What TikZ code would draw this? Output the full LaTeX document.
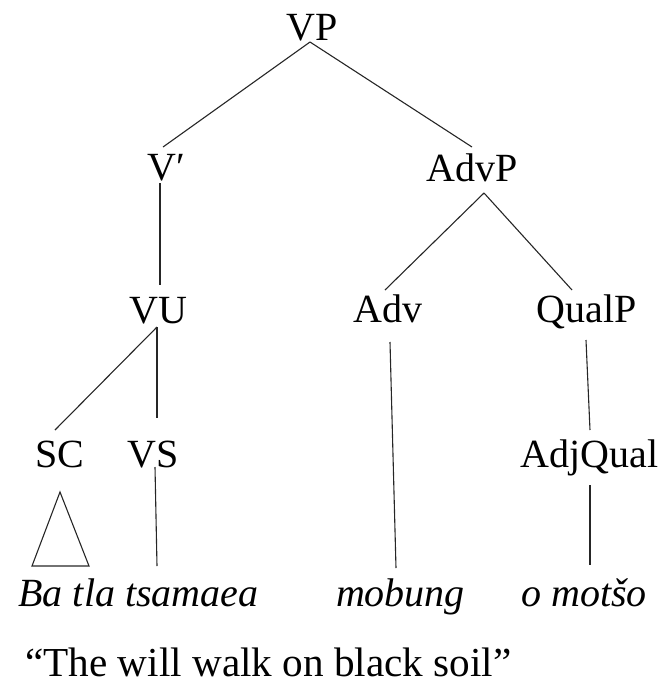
\documentclass[tikz,border=0pt]{standalone}
\usepackage{fontspec}
\setmainfont{Liberation Serif}
\begin{document}
\begin{tikzpicture}[x=1pt,y=-1pt,
  lab/.style={anchor=base,inner sep=0pt,font=\fontsize{40}{48}\selectfont},
  word/.style={lab,font=\fontsize{40}{48}\selectfont\itshape},
  branch/.style={draw=black!85,line width=1.1pt}]
\useasboundingbox (0,0) rectangle (666,686);

% categories
\node[lab] (VP)    at (312.5,40)  {VP};
\node[lab] (Vbar)  at (166.5,180) {V′};
\node[lab] (AdvP)  at (472,181)   {AdvP};
\node[lab] (VU)    at (158.5,323) {VU};
\node[lab] (Adv)   at (388,322)   {Adv};
\node[lab] (QualP) at (586.5,322) {QualP};
\node[lab] (SC)    at (60,467)    {SC};
\node[lab] (VS)    at (153,467)   {VS};
\node[lab] (AdjQual) at (589.5,467) {AdjQual};

% words
\node[word] (batla)  at (138.5,606) {Ba tla tsamaea};
\node[word] (mobung) at (400.5,606) {mobung};
\node[word] (omotso) at (584,606)   {o motšo};

% gloss
\node[lab,anchor=base west,font=\fontsize{41.2}{48}\selectfont] (gloss) at (25,676)
  {“The will walk on black soil”};

% branches
\draw[branch] ([shift={(-2.5,2)}]VP.base) -- ([shift={(-3.5,-33)}]Vbar.base);
\draw[branch] ([shift={(-2.5,2)}]VP.base) -- ([shift={(0,-34)}]AdvP.base);
\draw[branch] ([shift={(-6.5,3)}]Vbar.base) -- ([shift={(1.5,-38)}]VU.base);
\draw[branch] ([shift={(12,12)}]AdvP.base) -- ([shift={(-3,-32)}]Adv.base);
\draw[branch] ([shift={(12,12)}]AdvP.base) -- ([shift={(-14.5,-32)}]QualP.base);
\draw[branch] ([shift={(-1.5,4)}]VU.base) -- ([shift={(-5,-37)}]SC.base);
\draw[branch] ([shift={(-1.5,4)}]VU.base) -- ([shift={(4,-49)}]VS.base);
\draw[branch] ([shift={(2,20)}]Adv.base) -- ([shift={(-4.5,-38)}]mobung.base);
\draw[branch] ([shift={(-0.5,18)}]QualP.base) -- ([shift={(0.5,-37)}]AdjQual.base);
\draw[branch] ([shift={(2,0)}]VS.base) -- ([shift={(18.5,-40)}]batla.base);
\draw[branch] ([shift={(0.5,18)}]AdjQual.base) -- ([shift={(6,-41)}]omotso.base);

% roof over the subject clitic
\draw[branch,line join=miter] ([shift={(0,25)}]SC.base) -- ([shift={(-28,99)}]SC.base)
  -- ([shift={(29,99)}]SC.base) -- cycle;
\end{tikzpicture}
\end{document}
